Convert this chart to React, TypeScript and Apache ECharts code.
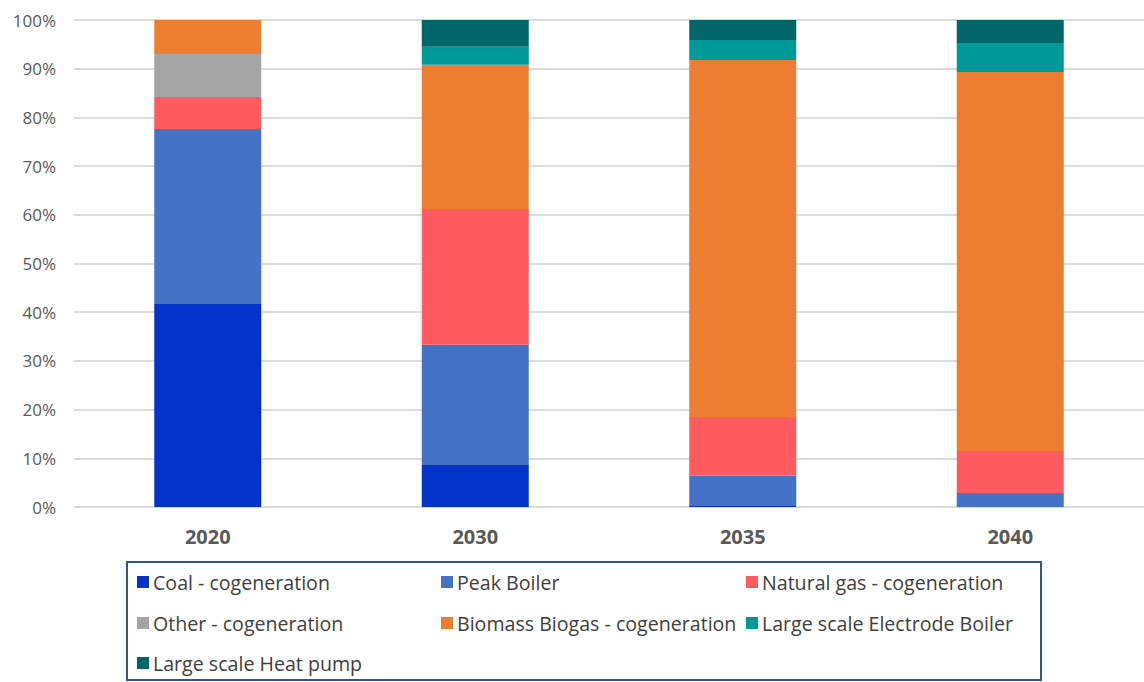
import React, { useEffect, useRef } from "react";
import * as echarts from "echarts";

const categories = ["2020", "2030", "2035", "2040"];
const coal = [41.7, 8.6, 0.2, 0];
const peakBoiler = [35.9, 24.7, 6.2, 2.9];
const naturalGas = [6.6, 27.9, 12.1, 8.6];
const other = [8.8, 0, 0, 0];
const biomass = [7.0, 29.6, 73.3, 77.8];
const electrode = [0, 3.7, 4.1, 6.0];
const heatPump = [0, 5.5, 4.1, 4.7];
const yTicks = [0, 10, 20, 30, 40, 50, 60, 70, 80, 90, 100];

const seriesDefs = [
  { name: "Coal - cogeneration", data: coal, color: "#0433C9" },
  { name: "Peak Boiler", data: peakBoiler, color: "#4472C4" },
  { name: "Natural gas - cogeneration", data: naturalGas, color: "#FF5B61" },
  { name: "Other - cogeneration", data: other, color: "#A5A5A5" },
  { name: "Biomass Biogas - cogeneration", data: biomass, color: "#ED7D31" },
  { name: "Large scale Electrode Boiler", data: electrode, color: "#00999A" },
  { name: "Large scale Heat pump", data: heatPump, color: "#006669" },
];

// legend slot for each series: [column, row]
const legendSlots = [
  [0, 0], [1, 0], [2, 0],
  [0, 1], [1, 1], [2, 1],
  [0, 2],
];
const colLeft = [137, 441, 746];
const rowTop = [572, 613, 653];

const FONT = "Open Sans";

export default function App() {
  const ref = useRef<HTMLDivElement>(null);
  useEffect(() => {
    if (!ref.current) return;
    const chart = echarts.init(ref.current, undefined, { renderer: "svg" });
    chart.setOption({
      animation: false,
      backgroundColor: "#ffffff",
      grid: { left: 74, top: 20, width: 1076, height: 487 },
      xAxis: {
        type: "category",
        data: categories,
        axisLine: { show: false },
        axisTick: { show: false },
        axisLabel: { fontFamily: FONT, fontSize: 20, fontWeight: "bold", color: "#595959", margin: 19 },
      },
      yAxis: {
        type: "value",
        min: 0,
        max: 100,
        interval: 10,
        axisLabel: {
          fontFamily: FONT,
          fontSize: 17,
          color: "#595959",
          margin: 18,
          formatter: (v: number) => (yTicks.includes(v) ? v + "%" : ""),
        },
        splitLine: { lineStyle: { color: "#D0D0D0", width: 1.5 } },
        axisLine: { show: false },
        axisTick: { show: false },
      },
      legend: seriesDefs.map((s, i) => ({
        left: colLeft[legendSlots[i][0]],
        top: rowTop[legendSlots[i][1]],
        padding: 0,
        itemWidth: 12,
        itemHeight: 12,
        icon: "rect",
        selectedMode: false,
        data: [s.name],
        textStyle: { fontFamily: FONT, fontSize: 19.6, color: "#404040", padding: [0, 0, 0, -1] },
      })),
      graphic: [
        {
          type: "rect",
          shape: { x: 127, y: 562, width: 914, height: 118 },
          style: { fill: "none", stroke: "#2F5597", lineWidth: 2 },
        },
      ],
      series: seriesDefs.map((s) => ({
        name: s.name,
        type: "bar",
        stack: "total",
        data: s.data,
        barWidth: 107,
        itemStyle: { color: s.color },
      })),
    });
    return () => chart.dispose();
  }, []);
  return <div ref={ref} style={{ width: 1144, height: 682, position: "absolute", left: 0, top: 0 }} />;
}
